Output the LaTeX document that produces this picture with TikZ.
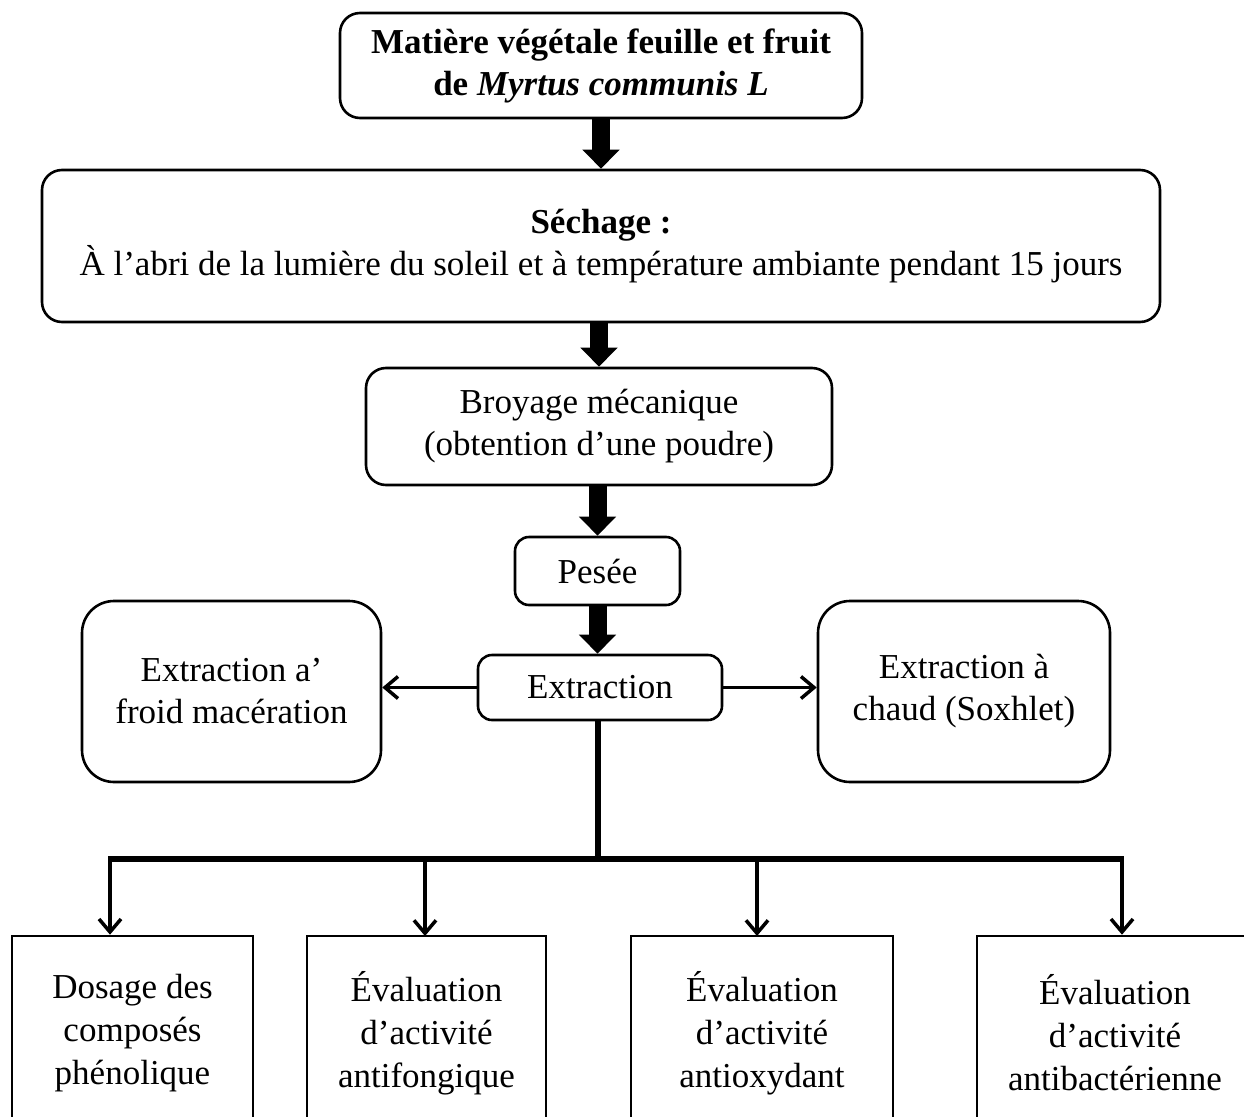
\documentclass[tikz,border=0pt]{standalone}
\usepackage{fontspec}
\setmainfont{Liberation Serif}
\usetikzlibrary{arrows.meta}
\tikzset{
  rbox/.style={draw, line width=2.6pt, rounded corners=20pt, align=center, inner sep=0pt,
    font=\fontsize{35}{42}\selectfont},
  sbox/.style={draw, line width=2.6pt, align=center, inner sep=0pt,
    font=\fontsize{35}{43}\selectfont},
  bigarrow/.style={line width=18pt, -{Triangle[width=36pt,length=19pt]}},
  thinarrow/.style={line width=3.5pt, -{Straight Barb[length=13pt,width=22pt,line width=3.5pt]}},
  thickline/.style={line width=5.5pt}
}
\begin{document}
\begin{tikzpicture}[x=1pt,y=-1pt]
\fill[white] (0,0) rectangle (1244,1116);
\clip (0,0) rectangle (1244,1116);

\node[rbox, minimum width=522pt, minimum height=105pt] (top) at (601,65.5)
  {\textbf{Matière végétale feuille et fruit}\\\textbf{de \textit{Myrtus communis L}}};
\node[rbox, minimum width=1118pt, minimum height=152pt] (sech) at (601,246)
  {\textbf{Séchage :}\\À l’abri de la lumière du soleil et à température ambiante pendant 15 jours};
\node[rbox, minimum width=466pt, minimum height=117pt] (broy) at (599,426.5)
  {Broyage mécanique\\(obtention d’une poudre)};
\node[rbox, rounded corners=14pt, minimum width=165pt, minimum height=68pt] (pese) at (597.5,571)
  {Pesée};
\node[rbox, rounded corners=14pt, minimum width=244pt, minimum height=65pt] (extr) at (600,687.5)
  {Extraction};
\node[rbox, rounded corners=32pt, minimum width=299pt, minimum height=181pt] (left) at (231.5,691.5)
  {Extraction a’\\froid macération};
\node[rbox, rounded corners=32pt, minimum width=292pt, minimum height=181pt] (right) at (964,691.5)
  {Extraction à\\chaud (Soxhlet)};

\node[sbox, minimum width=241pt, minimum height=194pt] (b1) at (132.5,1033)
  {Dosage des\\composés\\phénolique};
\node[sbox, minimum width=239pt, minimum height=194pt] (b2) at (426.5,1033)
  {Évaluation\\d’activité\\antifongique};
\node[sbox, minimum width=262pt, minimum height=194pt] (b3) at (762,1033)
  {Évaluation\\d’activité\\antioxydant};
\node[sbox, minimum width=276pt, minimum height=194pt] (b4) at (1115,1033)
  {Évaluation\\d’activité\\antibactérienne};

% block arrows
\draw[bigarrow] (top.south) -- (top.south |- sech.north);
\draw[bigarrow] (sech.south -| broy.north) -- (broy.north);
\draw[bigarrow] (broy.south -| pese.north) -- (pese.north);
\draw[bigarrow] (pese.south) -- (pese.south |- extr.north);

% side arrows
\draw[thinarrow] (extr.west) -- (left.east |- extr.west);
\draw[thinarrow] (extr.east) -- (right.west |- extr.east);

% distribution
\coordinate (hub) at (598,859);
\coordinate (hl) at (110,859);
\coordinate (hr) at (1122,859);
\draw[thickline] (extr.south -| hub) -- (hub);
\draw[thickline] ([xshift=-1.75pt]hl) -- ([xshift=1.75pt]hr);
\draw[thinarrow] (hl) -- (hl |- b1.north);
\draw[thinarrow] (425,859) -- (425,936);
\draw[thinarrow] (757,859) -- (757,936);
\draw[thinarrow] (hr) -- (hr |- b4.north);
\end{tikzpicture}
\end{document}
